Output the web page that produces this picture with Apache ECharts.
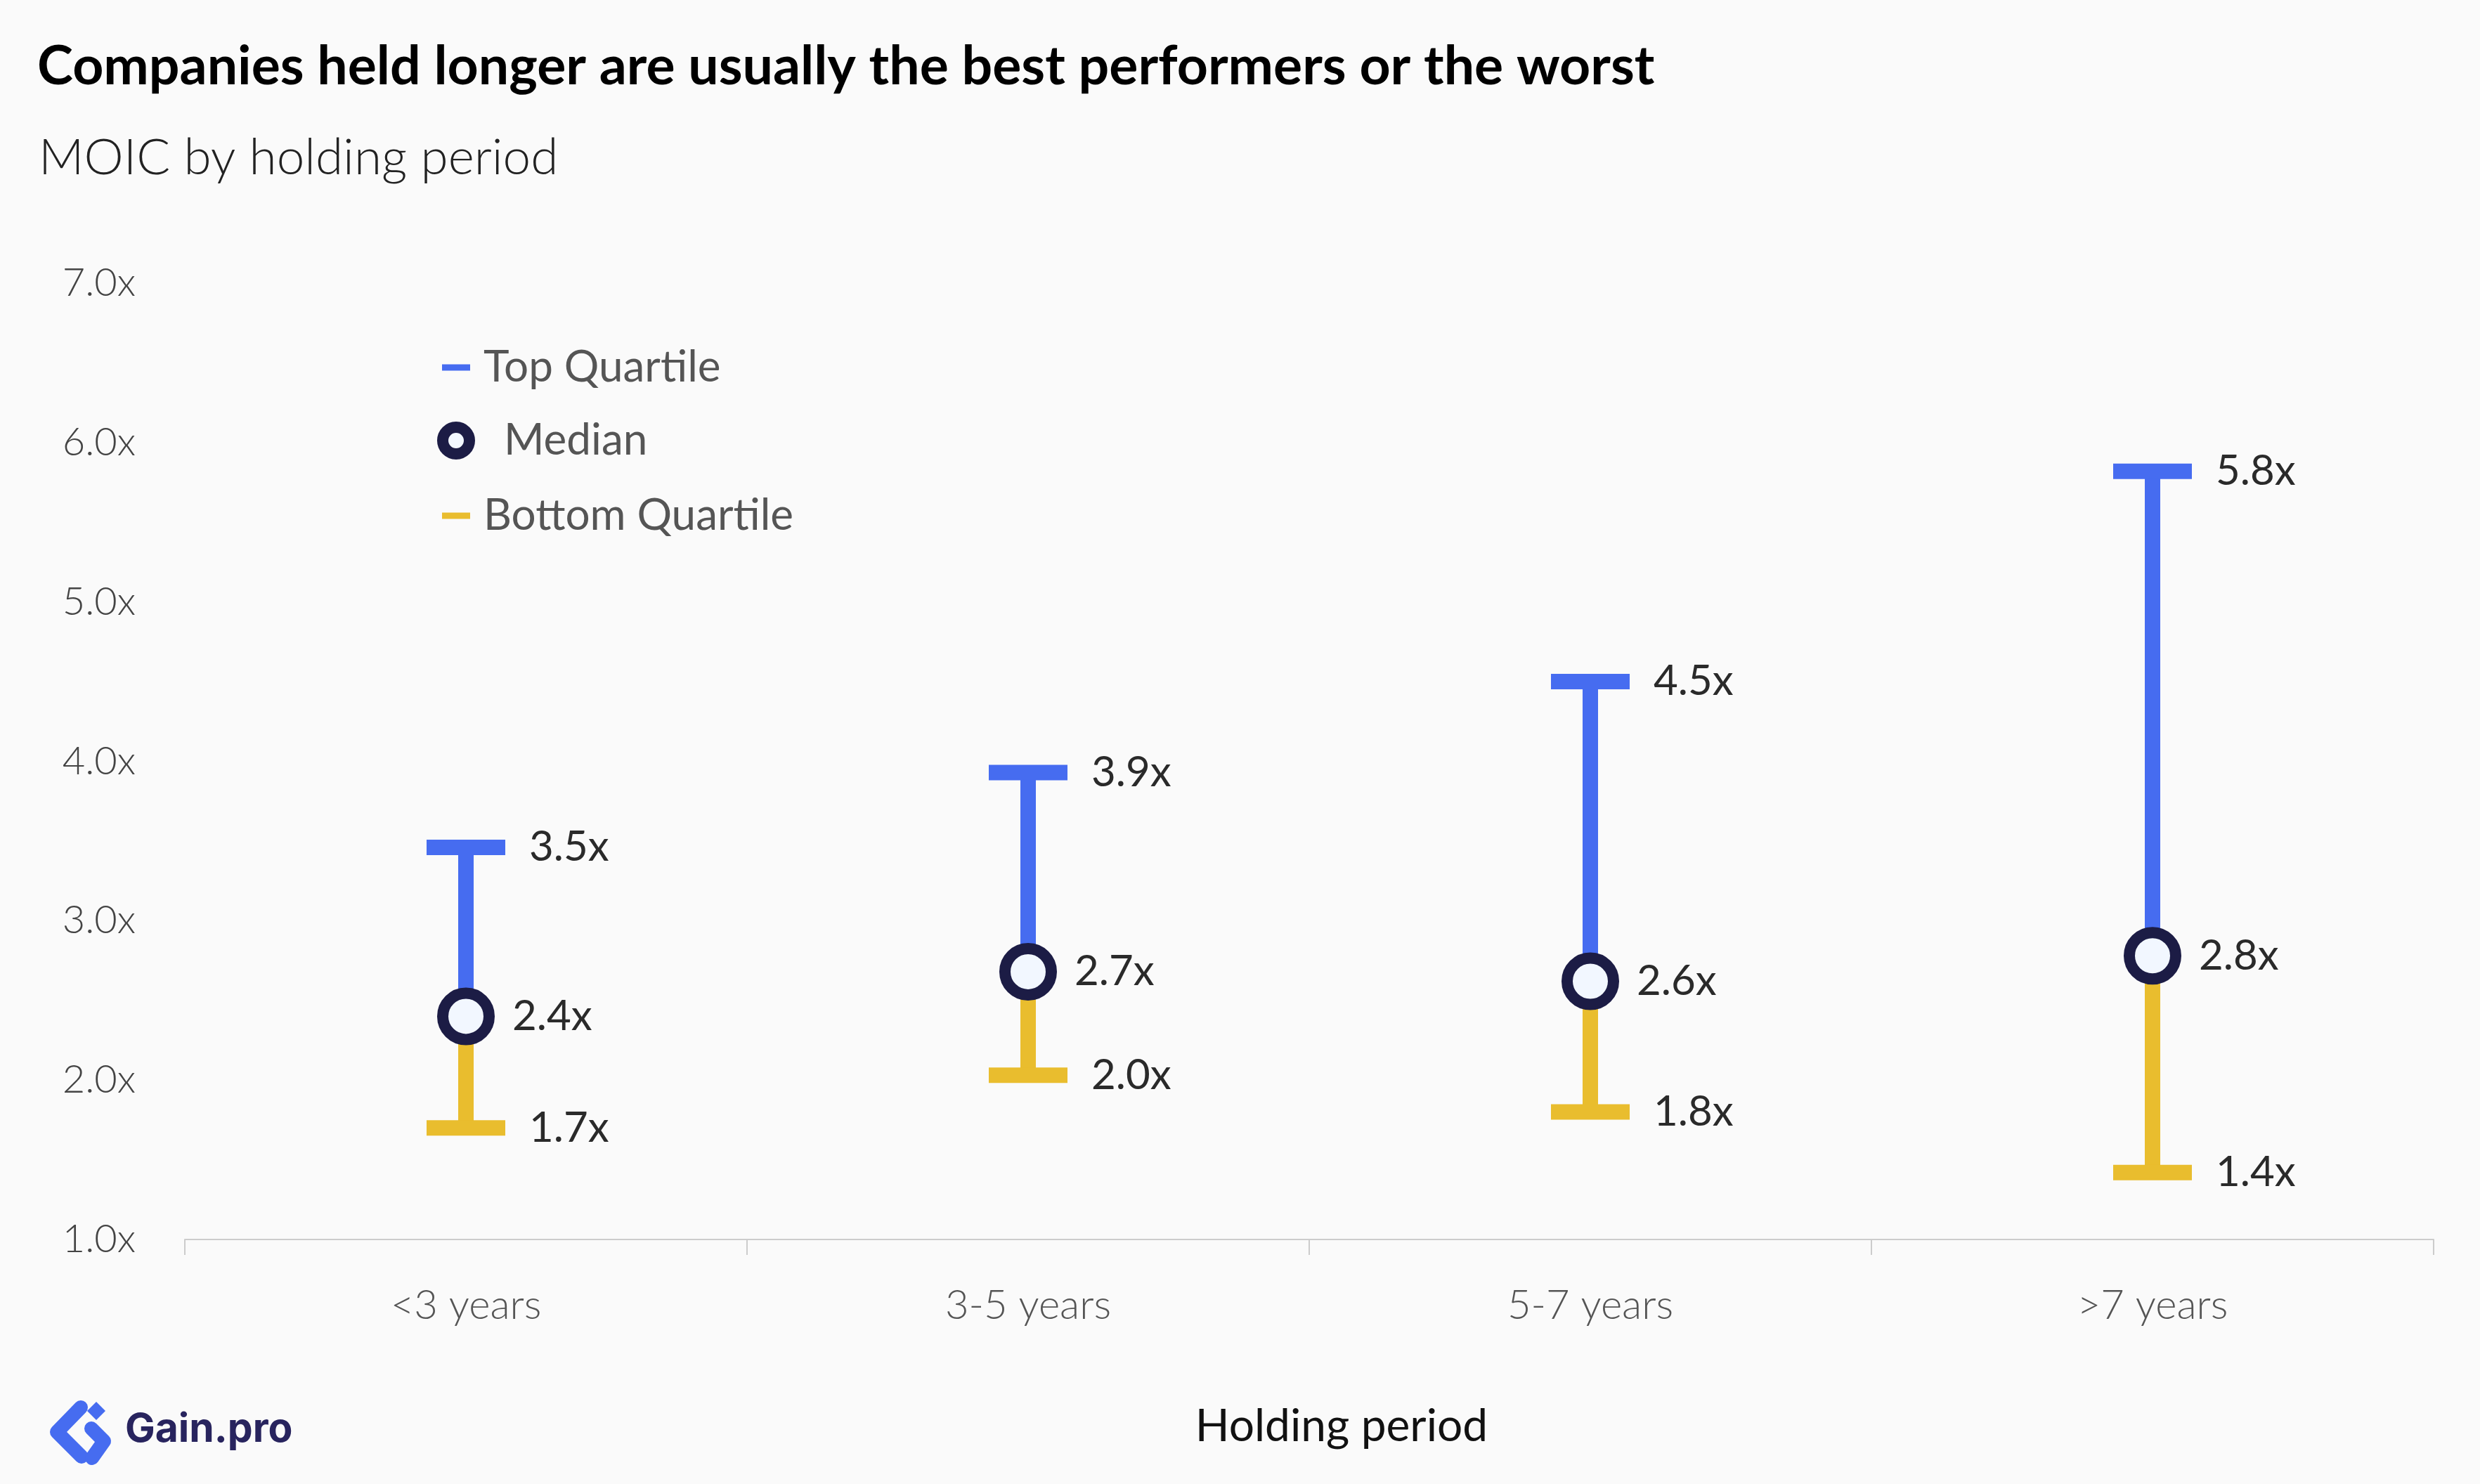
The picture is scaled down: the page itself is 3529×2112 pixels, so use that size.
<!DOCTYPE html>
<html>
<head>
<meta charset="UTF-8">
<title>MOIC by holding period</title>
<script src="https://cdn.jsdelivr.net/npm/echarts@6/dist/echarts.min.js"></script>
<style>
  * { margin: 0; padding: 0; }
  html, body { background: #fafafa; }
  #main { width: 3529px; height: 2112px; }
</style>
</head>
<body>
<div id="main"></div>
<script>
// data
var periods = ['<3 years', '3-5 years', '5-7 years', '>7 years'];
var topQuartile = [3.46, 3.93, 4.5, 5.82];
var median = [2.4, 2.68, 2.62, 2.78];
var bottomQuartile = [1.7, 2.03, 1.8, 1.42];
var yTicks = { min: 1, max: 7, step: 1 };

var BLUE = '#466cf0';
var YELLOW = '#e9bd2e';
var NAVY = '#1c1c45';
var FONT = 'Lato';

var chart = echarts.init(document.getElementById('main'));

function rangeItem(color) {
  return function (params, api) {
    var idx = api.value(0);
    var m = api.value(1);
    var v = api.value(2);
    var pm = api.coord([idx, m]);
    var pv = api.coord([idx, v]);
    return {
      type: 'group',
      children: [
        { type: 'line', shape: { x1: pm[0], y1: pm[1], x2: pv[0], y2: pv[1] },
          style: { stroke: color, lineWidth: 22 } },
        { type: 'line', shape: { x1: pv[0] - 56, y1: pv[1], x2: pv[0] + 56, y2: pv[1] },
          style: { stroke: color, lineWidth: 22 } },
        { type: 'text', x: pv[0] + 90, y: pv[1],
          style: { text: v.toFixed(1) + 'x', fill: '#2a2a2a', fontSize: 60,
                   fontFamily: FONT, verticalAlign: 'middle', align: 'left' } }
      ]
    };
  };
}

function rangeData(vals) {
  return vals.map(function (v, i) { return [i, median[i], v]; });
}

function legendBox(name, left, top, icon, w, h, style, padLeft) {
  return {
    data: [{ name: name, icon: icon, itemStyle: style }],
    left: left, top: top,
    itemWidth: w, itemHeight: h,
    selectedMode: false,
    textStyle: { fontSize: 62, fontFamily: FONT, color: '#555', lineHeight: 70,
                 padding: [0, 0, 0, padLeft] }
  };
}

chart.setOption({
  backgroundColor: '#fafafa',
  animation: false,
  title: [
    { text: 'Companies held longer are usually the best performers or the worst',
      left: 48, top: 52,
      textStyle: { fontSize: 77, fontWeight: 'bold', fontFamily: FONT, color: '#000', lineHeight: 77 } },
    { text: 'MOIC by holding period',
      left: 50, top: 185,
      textStyle: { fontSize: 71, fontWeight: 300, fontFamily: FONT, color: '#222', lineHeight: 71 } }
  ],
  legend: [
    legendBox('Top Quartile', 624, 483, 'rect', 40, 9, { color: BLUE }, 14),
    legendBox('Median', 617, 587, 'circle', 38, 38,
      { color: '#f2f7ff', borderColor: NAVY, borderWidth: 16 }, 44),
    legendBox('Bottom Quartile', 624, 694, 'rect', 40, 9, { color: YELLOW }, 14)
  ],
  grid: { left: 263, right: 66, top: 403, bottom: 348 },
  xAxis: {
    type: 'category',
    data: periods,
    name: 'Holding period',
    nameLocation: 'middle',
    nameGap: 234,
    nameTextStyle: { fontSize: 64, fontFamily: FONT, color: '#111', padding: [0, 0, 0, 92] },
    axisLine: { lineStyle: { color: '#cccccc', width: 2 } },
    axisTick: { show: true, length: 22, lineStyle: { color: '#cccccc', width: 2 } },
    axisLabel: { fontSize: 58, fontFamily: FONT, fontWeight: 300, color: '#555',
                 margin: 59, lineHeight: 70 }
  },
  yAxis: {
    type: 'value',
    min: yTicks.min, max: yTicks.max, interval: yTicks.step,
    axisLine: { show: false },
    axisTick: { show: false },
    splitLine: { show: false },
    axisLabel: { fontSize: 56, fontFamily: FONT, fontWeight: 300, color: '#444', margin: 70,
                 formatter: function (v) { return v.toFixed(1) + 'x'; } }
  },
  series: [
    { name: 'Top Quartile', type: 'custom', itemStyle: { color: BLUE },
      renderItem: rangeItem(BLUE), encode: { x: 0, y: [1, 2] },
      data: rangeData(topQuartile), z: 2 },
    { name: 'Bottom Quartile', type: 'custom', itemStyle: { color: YELLOW },
      renderItem: rangeItem(YELLOW), encode: { x: 0, y: [1, 2] },
      data: rangeData(bottomQuartile), z: 2 },
    { name: 'Median', type: 'scatter', symbol: 'circle', symbolSize: 66,
      itemStyle: { color: '#f2f7ff', borderColor: NAVY, borderWidth: 16, opacity: 1 },
      label: { show: true, position: 'right', distance: 25, fontSize: 60, fontFamily: FONT,
               color: '#2a2a2a', formatter: function (p) { return p.value.toFixed(1) + 'x'; } },
      data: median, z: 5 }
  ],
  graphic: [
    // Gain.pro logo
    { type: 'polyline', shape: { points: [[115, 2003], [81, 2038], [116, 2073]] },
      style: { stroke: BLUE, lineWidth: 20, lineJoin: 'round', lineCap: 'round', fill: null } },
    { type: 'polygon', shape: { points: [[137, 1995], [150, 2008], [137, 2021], [124, 2008]] },
      style: { fill: BLUE } },
    { type: 'polyline', shape: { points: [[130, 2033], [148, 2051], [131, 2075]] },
      style: { stroke: BLUE, lineWidth: 20, lineJoin: 'round', lineCap: 'round', fill: null } },
    { type: 'text', left: 178, top: 2006,
      style: { text: 'Gain.pro', fontSize: 57, fontWeight: 'bold', fontFamily: 'Inter', fill: '#28245e' } }
  ]
});
</script>
</body>
</html>
